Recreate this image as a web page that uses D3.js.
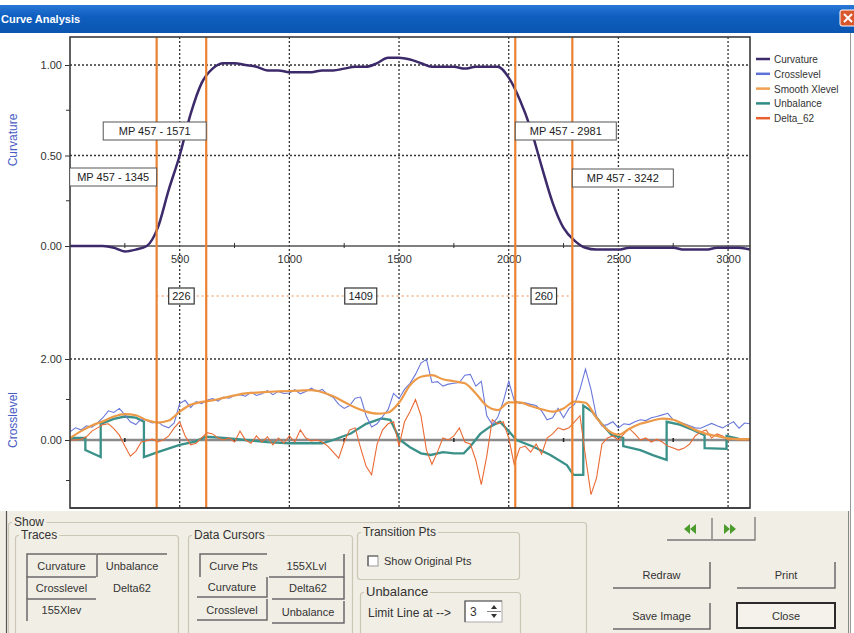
<!DOCTYPE html>
<html><head><meta charset="utf-8">
<script src="https://cdn.jsdelivr.net/npm/d3@7"></script>
<style>html,body{margin:0;padding:0;background:#fff;overflow:hidden}svg{display:block;font-family:"Liberation Sans",Arial,sans-serif}</style>
</head><body><svg id="c" width="854" height="633"></svg>
<script>
// ---------------- DATA ----------------
const curvatureStep = 50; // distance between samples
const curvature = [
 0, 0, 0, 0, -0.01, -0.03, -0.02, 0.00, 0.10, 0.31,
 0.50, 0.73, 0.90, 0.98, 1.01, 1.01, 1.00, 0.99, 0.97, 0.97,
 0.96, 0.96, 0.96, 0.97, 0.97, 0.98, 0.99, 0.99, 1.01, 1.04,
 1.04, 1.03, 1.01, 0.99, 0.99, 0.99, 0.98, 0.99, 0.99, 0.99,
 0.93, 0.81, 0.65, 0.44, 0.24, 0.10, 0.03, -0.01, -0.02, -0.02,
 -0.02, -0.01, -0.01, -0.01, -0.01, -0.01, -0.02, -0.02, -0.02, -0.01,
 -0.01, -0.01, -0.02];
const smoothStep = 50;
const smoothXlevel = [
 0.05, 0.22, 0.36, 0.46, 0.58, 0.64, 0.61, 0.49, 0.43, 0.48,
 0.70, 0.87, 0.94, 0.98, 1.04, 1.10, 1.15, 1.17, 1.19, 1.20,
 1.21, 1.22, 1.23, 1.18, 1.08, 0.94, 0.80, 0.70, 0.65, 0.68,
 0.92, 1.35, 1.56, 1.60, 1.50, 1.45, 1.40, 1.15, 0.84, 0.74,
 0.93, 0.93, 0.84, 0.76, 0.70, 0.78, 0.95, 0.92, 0.55, 0.25,
 0.13, 0.28, 0.40, 0.47, 0.53, 0.50, 0.38, 0.25, 0.15, 0.10,
 0.04, 0.02, 0.02];
const crossStep = 25;
const crosslevel = [
 0.20, 0.30, 0.25, 0.35, 0.32, 0.42, 0.55, 0.72, 0.68, 0.78, 0.62, 0.45, 0.38, 0.52, 0.48, 0.42, 0.45, 0.35, 0.30, 0.42,
 0.90, 0.98, 0.80, 0.95, 0.90, 0.98, 1.02, 0.96, 1.06, 1.03, 1.10, 1.12, 1.08, 1.18, 1.10, 1.14, 1.22, 1.12, 1.20, 1.15,
 1.16, 1.24, 1.14, 1.20, 1.28, 1.20, 1.25, 1.12, 1.05, 0.88, 0.78, 0.85, 1.03, 1.06, 0.60, 0.32, 0.40, 0.58, 0.75, 1.15,
 1.02, 1.25, 1.40, 1.62, 1.90, 1.99, 1.42, 1.44, 1.33, 1.38, 1.40, 1.42, 1.60, 1.62, 1.33, 1.45, 0.60, 0.38, 0.56, 0.95,
 1.45, 0.98, 0.90, 0.92, 0.88, 0.85, 0.72, 0.50, 0.55, 0.78, 0.55, 0.78, 0.88, 1.25, 1.75, 1.25, 0.58, 0.35, 0.38, 0.45,
 0.30, 0.40, 0.38, 0.45, 0.50, 0.48, 0.55, 0.58, 0.62, 0.66, 0.50, 0.45, 0.40, 0.35, 0.30, 0.29, 0.35, 0.41, 0.35, 0.30,
 0.38, 0.45, 0.29, 0.42, 0.40];
const delta62 = [
 0.00, 0.00, 0.02, 0.08, 0.22, 0.30, 0.38, 0.40, 0.28, 0.12, -0.15, -0.40, -0.28, -0.05, -0.02, 0.02, -0.05, 0.00, 0.10, 0.30,
 0.45, 0.10, -0.12, -0.08, 0.05, 0.18, 0.15, 0.05, 0.00, 0.05, -0.05, 0.22, 0.00, -0.08, 0.10, -0.05, 0.08, -0.12, 0.05, -0.08,
 0.10, -0.05, 0.25, 0.05, -0.02, 0.00, -0.05, -0.15, -0.30, -0.45, -0.05, 0.25, 0.30, -0.20, -0.65, -0.86, -0.10, 0.25, 0.40, 0.45,
 -0.15, 0.45, 0.70, 1.00, 0.60, -0.25, -0.60, -0.30, 0.05, 0.00, 0.10, 0.30, -0.05, -0.10, -0.50, -1.10, -0.40, 0.50, 0.40, 0.45,
 0.05, -0.60, -0.20, -0.15, -0.30, -0.10, -0.35, 0.05, 0.15, 0.30, 0.25, 0.30, 0.45, 0.60, -0.40, -1.35, -0.95, -0.10, 0.05, 0.10,
 0.00, 0.15, 0.28, 0.15, 0.00, 0.05, -0.05, 0.02, -0.05, -0.15, -0.20, -0.25, -0.20, -0.10, 0.10, 0.20, 0.25, 0.05, 0.15, 0.10,
 0.00, 0.02, 0.00, 0.00, 0.00];
const unbalanceX = [0, 70, 70, 140, 140, 200, 250, 300, 337, 337, 400, 500, 570, 620, 700, 800, 900, 1000, 1100, 1150,
 1200, 1280, 1350, 1420, 1460, 1505, 1550, 1600, 1645, 1700, 1750, 1795, 1825, 1870, 1915, 1960, 1990, 2035, 2110, 2190,
 2265, 2295, 2340, 2340, 2380, 2420, 2470, 2522, 2522, 2600, 2660, 2720, 2720, 2780, 2840, 2893, 2893, 2993, 2993, 3050, 3100];
const unbalanceY = [0.05, 0.05, -0.25, -0.42, 0.40, 0.52, 0.58, 0.55, 0.45, -0.42, -0.30, -0.12, -0.04, 0.08, 0.05, 0.00, -0.05, -0.08, -0.08, -0.08,
 0.00, 0.16, 0.40, 0.53, 0.50, 0.00, -0.18, -0.33, -0.37, -0.30, -0.33, -0.33, -0.16, 0.15, 0.33, 0.45, 0.28, 0.00, -0.16, -0.37,
 -0.62, -0.86, -0.86, 0.85, 0.70, 0.42, 0.12, 0.05, -0.15, -0.25, -0.38, -0.49, 0.45, 0.38, 0.25, 0.12, -0.20, -0.22, 0.10, 0.03, 0.02];
const cursorPositions = [395, 621, 2030, 2290];
const cursorLabels = ["MP 457 - 1345", "MP 457 - 1571", "MP 457 - 2981", "MP 457 - 3242"];
const spanLabels = ["226", "1409", "260"];
const xTicks = [500, 1000, 1500, 2000, 2500, 3000];
const xMinorTicks = [250, 750, 1250, 1750, 2250, 2750];
const upperTicks = [0, 0.5, 1.0];
const upperMinor = [0.25, 0.75];
const lowerTicks = [0, 2.0];
const lowerMinor = [-1, 1];
const legendNames = ["Curvature", "Crosslevel", "Smooth Xlevel", "Unbalance", "Delta_62"];
const legendColors = ["#3c2a6b", "#5f72d8", "#f0a050", "#2f8c85", "#e8602c"];

// ---------------- LAYOUT ----------------
const svg = d3.select("#c");
const P = {l: 70, r: 750, t: 37, b: 508};
const x = d3.scaleLinear().domain([0, 3100]).range([P.l, P.r]);
const yU = d3.scaleLinear().domain([0, 1]).range([246, 65]);
const yL = d3.scaleLinear().domain([0, 2]).range([440, 359]);
const fmt = d3.format(".2f");

// window chrome
svg.append("rect").attr("x", 0).attr("y", 0).attr("width", 854).attr("height", 633).attr("fill", "#ffffff");
const grad = svg.append("defs").append("linearGradient").attr("id", "tb").attr("x1", 0).attr("y1", 0).attr("x2", 0).attr("y2", 1);
grad.append("stop").attr("offset", "0%").attr("stop-color", "#2a78d6");
grad.append("stop").attr("offset", "40%").attr("stop-color", "#0f5fc0");
grad.append("stop").attr("offset", "100%").attr("stop-color", "#0a55b0");
svg.append("rect").attr("x", 0).attr("y", 5).attr("width", 854).attr("height", 28).attr("fill", "url(#tb)");
svg.append("text").attr("x", 1).attr("y", 23).attr("fill", "#fff").attr("font-size", 11).attr("font-weight", "bold").text("Curve Analysis");
svg.append("rect").attr("x", 840).attr("y", 10).attr("width", 16).attr("height", 16).attr("rx", 2).attr("fill", "#d9572c").attr("stroke", "#fff").attr("stroke-width", 1);
svg.append("path").attr("d", "M844,14 L852,22 M852,14 L844,22").attr("stroke", "#fff").attr("stroke-width", 2);
svg.append("line").attr("x1", 850.5).attr("x2", 850.5).attr("y1", 33).attr("y2", 633).attr("stroke", "#9a9a9a");
svg.append("defs").append("clipPath").attr("id", "clip").append("rect").attr("x", P.l).attr("y", P.t).attr("width", P.r - P.l).attr("height", P.b - P.t);

// grid
const g = svg.append("g");
g.selectAll(".vg").data(xTicks).join("line")
  .attr("x1", d => x(d)).attr("x2", d => x(d)).attr("y1", P.t).attr("y2", P.b)
  .attr("stroke", "#333").attr("stroke-width", 1.3).attr("stroke-dasharray", "2,2");
g.selectAll(".hg").data([yU(1), yU(0.5), yL(2)]).join("line")
  .attr("x1", P.l).attr("x2", P.r).attr("y1", d => d).attr("y2", d => d)
  .attr("stroke", "#333").attr("stroke-width", 1.3).attr("stroke-dasharray", "2,2");

// upper zero axis
svg.append("line").attr("x1", P.l).attr("x2", P.r).attr("y1", yU(0)).attr("y2", yU(0)).attr("stroke", "#555").attr("stroke-width", 1.5);
svg.selectAll(".um").data(xMinorTicks).join("line").attr("x1", d => x(d)).attr("x2", d => x(d)).attr("y1", yU(0) - 3).attr("y2", yU(0) + 2).attr("stroke", "#333");
// lower zero axis
svg.append("line").attr("x1", P.l).attr("x2", P.r).attr("y1", yL(0)).attr("y2", yL(0)).attr("stroke", "#8a8a8a").attr("stroke-width", 2.5);
svg.selectAll(".lm").data(xMinorTicks).join("line").attr("x1", d => x(d)).attr("x2", d => x(d)).attr("y1", yL(0) - 2).attr("y2", yL(0) + 2).attr("stroke", "#222").attr("stroke-width", 1.5);

// x tick labels
const xa = svg.append("g").attr("transform", `translate(0,${yU(0)})`)
  .call(d3.axisBottom(x).tickValues(xTicks).tickSize(0).tickPadding(9).tickFormat(d3.format("d")));
xa.select(".domain").remove();
xa.selectAll("text").attr("font-size", 11).attr("fill", "#333").attr("font-family", "Liberation Sans, Arial, sans-serif");

// y axes
function yAxis(scale, ticks, minor) {
  const a = svg.append("g").attr("transform", `translate(${P.l},0)`)
    .call(d3.axisLeft(scale).tickValues(ticks).tickSize(5).tickPadding(3).tickFormat(fmt));
  a.select(".domain").remove();
  a.selectAll("text").attr("font-size", 11).attr("fill", "#333").attr("font-family", "Liberation Sans, Arial, sans-serif");
  a.selectAll("line").attr("stroke", "#333");
  svg.selectAll(null).data(minor).join("line").attr("x1", P.l - 4).attr("x2", P.l).attr("y1", d => scale(d)).attr("y2", d => scale(d)).attr("stroke", "#333");
}
yAxis(yU, upperTicks, upperMinor);
yAxis(yL, lowerTicks, lowerMinor);

svg.append("text").attr("transform", "translate(17,140) rotate(-90)").attr("text-anchor", "middle").attr("font-size", 12).attr("fill", "#4a5cc4").text("Curvature");
svg.append("text").attr("transform", "translate(17,420) rotate(-90)").attr("text-anchor", "middle").attr("font-size", 12).attr("fill", "#4a5cc4").text("Crosslevel");

// series
const plot = svg.append("g").attr("clip-path", "url(#clip)");
const lineStep = (scale, step) => d3.line().x((d, i) => x(i * step)).y(d => scale(d));
plot.append("path").datum(unbalanceX.map((d, i) => [d, unbalanceY[i]]))
  .attr("d", d3.line().x(d => x(d[0])).y(d => yL(d[1]))).attr("fill", "none").attr("stroke", "#3a9189").attr("stroke-width", 2.3);
plot.append("path").datum(delta62).attr("d", lineStep(yL, crossStep)).attr("fill", "none").attr("stroke", "#ea6a34").attr("stroke-width", 1.1);
plot.append("path").datum(crosslevel).attr("d", lineStep(yL, crossStep)).attr("fill", "none").attr("stroke", "#6a78da").attr("stroke-width", 1.1);
plot.append("path").datum(smoothXlevel).attr("d", lineStep(yL, smoothStep).curve(d3.curveMonotoneX)).attr("fill", "none").attr("stroke", "#ec9a48").attr("stroke-width", 2.2);
plot.append("path").datum(curvature).attr("d", lineStep(yU, curvatureStep).curve(d3.curveMonotoneX)).attr("fill", "none").attr("stroke", "#3c2a6b").attr("stroke-width", 2.5);

// span line and labels
svg.append("line").attr("x1", x(cursorPositions[0])).attr("x2", x(cursorPositions[3])).attr("y1", 296).attr("y2", 296)
  .attr("stroke", "#f2b58a").attr("stroke-width", 1.3).attr("stroke-dasharray", "2,3");

// cursor lines
svg.selectAll(".cur").data(cursorPositions).join("line")
  .attr("x1", d => x(d)).attr("x2", d => x(d)).attr("y1", P.t).attr("y2", P.b)
  .attr("stroke", "#ea8232").attr("stroke-width", 2.2);

// plot frame
svg.append("rect").attr("x", P.l).attr("y", P.t).attr("width", P.r - P.l).attr("height", P.b - P.t).attr("fill", "none").attr("stroke", "#3a3a3a").attr("stroke-width", 1.6);

// cursor labels
const labSpec = [
  {side: "left", y: 168, w: 87},
  {side: "left", y: 122, w: 103},
  {side: "right", y: 122, w: 101},
  {side: "right", y: 169, w: 101}];
cursorLabels.forEach((t, i) => {
  const cx = x(cursorPositions[i]);
  const s = labSpec[i];
  const bx = s.side === "left" ? cx - s.w : cx;
  svg.append("rect").attr("x", bx).attr("y", s.y).attr("width", s.w).attr("height", 18).attr("fill", "#fff").attr("stroke", "#555").attr("stroke-width", 1);
  svg.append("text").attr("x", bx + s.w / 2).attr("y", s.y + 13).attr("text-anchor", "middle").attr("font-size", 11).attr("fill", "#222").text(t);
});
spanLabels.forEach((t, i) => {
  const cx = (x(cursorPositions[i]) + x(cursorPositions[i + 1])) / 2;
  const w = t.length * 6.5 + 6;
  svg.append("rect").attr("x", cx - w / 2).attr("y", 288).attr("width", w).attr("height", 16).attr("fill", "#fff").attr("stroke", "#333").attr("stroke-width", 1.2);
  svg.append("text").attr("x", cx).attr("y", 300).attr("text-anchor", "middle").attr("font-size", 11).attr("fill", "#222").text(t);
});

// legend
const lg = svg.append("g");
legendNames.forEach((n, i) => {
  const yy = 59 + i * 14.8;
  lg.append("line").attr("x1", 756).attr("x2", 770).attr("y1", yy).attr("y2", yy).attr("stroke", legendColors[i]).attr("stroke-width", 2.5);
  lg.append("text").attr("x", 774).attr("y", yy + 4).attr("font-size", 10).attr("fill", "#333").text(n);
});

// ---------------- BOTTOM PANEL ----------------
const bp = svg.append("g");
bp.append("rect").attr("x", 0).attr("y", 511).attr("width", 850).attr("height", 122).attr("fill", "#f1eee5");
bp.append("line").attr("x1", 6.5).attr("x2", 6.5).attr("y1", 511).attr("y2", 633).attr("stroke", "#555").attr("stroke-width", 1.2);
bp.append("line").attr("x1", 848.5).attr("x2", 848.5).attr("y1", 511).attr("y2", 633).attr("stroke", "#888").attr("stroke-width", 1);
svg.append("line").attr("x1", P.l).attr("x2", P.r).attr("y1", P.b).attr("y2", P.b).attr("stroke", "#3a3a3a").attr("stroke-width", 1.6);

function groupBox(x0, y0, w, h, label, fs) {
  bp.append("rect").attr("x", x0 + 0.5).attr("y", y0 + 0.5).attr("width", w).attr("height", h).attr("rx", 3)
    .attr("fill", "none").attr("stroke", "#cbc6b5").attr("stroke-width", 1.2);
  const t = bp.append("text").attr("x", x0 + 6).attr("y", y0 + 4).attr("font-size", fs || 12).attr("fill", "#333").text(label);
  const bb = t.node().getBBox();
  bp.insert("rect", () => t.node()).attr("x", bb.x - 2).attr("y", bb.y).attr("width", bb.width + 4).attr("height", bb.height).attr("fill", "#f1eee5");
}
function button(x0, y0, w, h, label, style) {
  if (style === "pressed") {
    bp.append("path").attr("d", `M${x0},${y0 + h} L${x0},${y0} L${x0 + w},${y0}`).attr("fill", "none").attr("stroke", "#6a6a6a").attr("stroke-width", 1.5);
  } else if (style === "raised") {
    bp.append("path").attr("d", `M${x0},${y0 + h} L${x0 + w},${y0 + h} L${x0 + w},${y0}`).attr("fill", "none").attr("stroke", "#6a6a6a").attr("stroke-width", 1.5);
  } else if (style === "box") {
    bp.append("rect").attr("x", x0).attr("y", y0).attr("width", w).attr("height", h).attr("fill", "#f4f2ea").attr("stroke", "#2a2a2a").attr("stroke-width", 2);
  }
  bp.append("text").attr("x", x0 + w / 2).attr("y", y0 + h / 2 + 4).attr("text-anchor", "middle").attr("font-size", 11).attr("fill", "#333").text(label);
}

groupBox(8, 522, 578, 120, "Show", 12);
groupBox(15, 535, 163, 105, "Traces", 12);
button(27, 554, 69, 23, "Curvature", "pressed");
button(97, 554, 70, 23, "Unbalance", "pressed");
button(27, 577, 69, 22, "Crosslevel", "pressed");
button(97, 577, 70, 22, "Delta62", "flat");
button(27, 599, 69, 22, "155Xlev", "pressed");

groupBox(188, 535, 164, 105, "Data Cursors", 12);
button(200, 554, 67, 23, "Curve Pts", "pressed");
button(269, 554, 75, 23, "155XLvl", "raised");
button(197, 577, 70, 20, "Curvature", "raised");
button(272, 577, 72, 22, "Delta62", "raised");
button(197, 599, 70, 21, "Crosslevel", "raised");
button(272, 601, 72, 22, "Unbalance", "raised");

groupBox(357, 532, 162, 47, "Transition Pts", 12);
bp.append("rect").attr("x", 368).attr("y", 556).attr("width", 10).attr("height", 10).attr("fill", "#fff").attr("stroke", "#999");
bp.append("path").attr("d", "M368,566 L368,556 L378,556").attr("fill", "none").attr("stroke", "#555").attr("stroke-width", 1.2);
bp.append("text").attr("x", 384).attr("y", 565).attr("font-size", 11).attr("fill", "#333").text("Show Original Pts");

groupBox(360, 592, 160, 50, "Unbalance", 13);
bp.append("text").attr("x", 368).attr("y", 617).attr("font-size", 12).attr("fill", "#333").text("Limit Line at -->");
bp.append("rect").attr("x", 465).attr("y", 601).attr("width", 37).attr("height", 21).attr("fill", "#fff").attr("stroke", "#aaa");
bp.append("path").attr("d", "M465,622 L465,601 L502,601").attr("fill", "none").attr("stroke", "#555").attr("stroke-width", 1.2);
bp.append("text").attr("x", 470).attr("y", 616).attr("font-size", 12).attr("fill", "#333").text("3");
bp.append("path").attr("d", "M491,609 L494,605 L497,609 Z M491,614 L494,618 L497,614 Z").attr("fill", "#333");
bp.append("line").attr("x1", 487).attr("x2", 501).attr("y1", 611.5).attr("y2", 611.5).attr("stroke", "#888");

// navigation arrows
bp.append("path").attr("d", "M667,540 L755,540 L755,517 M712,518 L712,539").attr("fill", "none").attr("stroke", "#777").attr("stroke-width", 1.3);
bp.append("path").attr("d", "M684,529 L690,524 L690,534 Z M690,529 L696,524 L696,534 Z").attr("fill", "#4b9c2c");
bp.append("path").attr("d", "M730,524 L736,529 L730,534 Z M724,524 L730,529 L724,534 Z").attr("fill", "#4b9c2c");

button(613, 562, 97, 26, "Redraw", "raised");
button(737, 562, 98, 26, "Print", "raised");
button(613, 603, 97, 26, "Save Image", "raised");
button(737, 603, 98, 25, "Close", "box");
</script></body></html>
